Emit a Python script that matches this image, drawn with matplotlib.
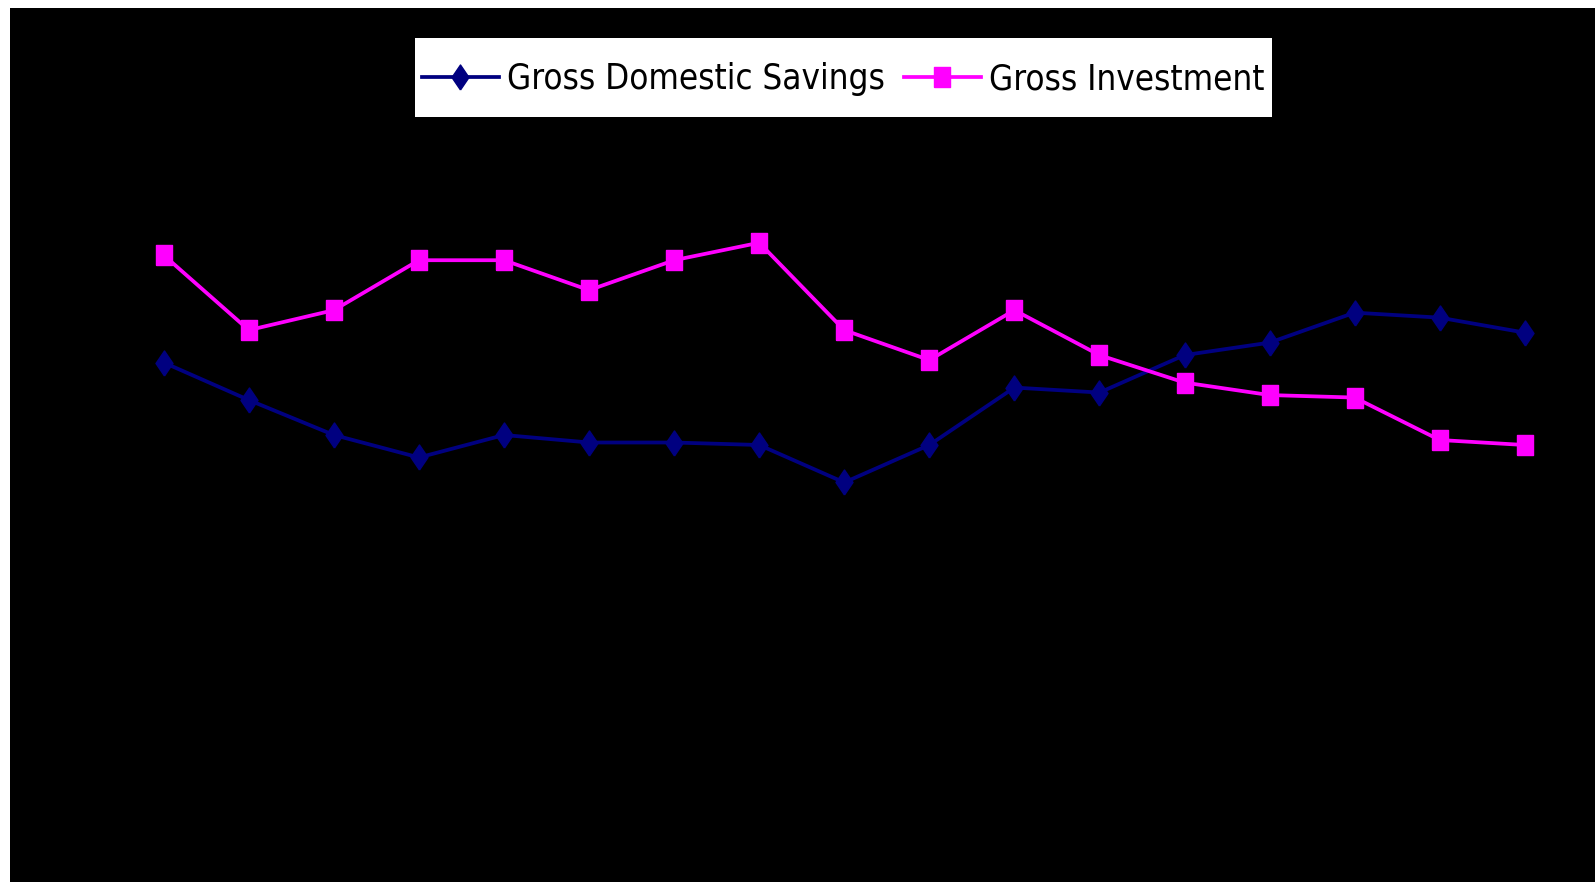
import matplotlib
matplotlib.use("Agg")
from matplotlib import pyplot as plt
from matplotlib.patches import Rectangle
import numpy as np

# years (axis text is black on black in the original, so not visible)
years = [str(y) for y in range(1990, 2007)]

# values (% of GDP, estimated)
savings = [20.8, 19.3, 17.9, 17.0, 17.9, 17.6, 17.6, 17.5, 16.0, 17.5,
           19.8, 19.6, 21.1, 21.6, 22.8, 22.6, 22.0]
investment = [25.1, 22.1, 22.9, 24.9, 24.9, 23.7, 24.9, 25.6, 22.1, 20.9,
              22.9, 21.1, 20.0, 19.5, 19.4, 17.7, 17.5]

W, H = 1595, 882
fig = plt.figure(figsize=(W / 100, H / 100), dpi=100, facecolor="white")
ax = fig.add_axes([10 / W, 0, (W - 10) / W, (H - 8) / H])
ax.set_facecolor("black")

x = np.arange(len(years))

# markers are a bit stretched vertically in the original
diamond = [(0, -0.5), (0.34, 0), (0, 0.5), (-0.34, 0), (0, -0.5)]
rect = [(-0.37, -0.5), (0.37, -0.5), (0.37, 0.5), (-0.37, 0.5), (-0.37, -0.5)]

ax.plot(x, savings, color="#000080", lw=2.7, marker=diamond, ms=18,
        mec="#000080", mfc="#000080", label="Gross Domestic Savings")
ax.plot(x, investment, color="#FF00FF", lw=2.7, marker=rect, ms=15,
        mec="#FF00FF", mfc="#FF00FF", label="Gross Investment")

ax.set_xlim(-1.808, 16.826)
ax.set_ylim(0, 35)
# year labels were black on black in the original -> not shown
ax.set_xticks([])
ax.set_yticks([])
for s in ax.spines.values():
    s.set_visible(False)

# white legend box (taller than matplotlib's own frame would be)
bx0, bx1, by0, by1 = 415, 1272, 37.6, 117
fig.patches.append(Rectangle((bx0 / W, 1 - by1 / H), (bx1 - bx0) / W, (by1 - by0) / H,
                             transform=fig.transFigure, facecolor="white",
                             edgecolor="none", zorder=5))

leg = fig.legend(loc="center", bbox_to_anchor=((bx0 + bx1) / 2 / W, 1 - (by0 + by1 + 4) / 2 / H),
                 ncol=2, frameon=False, borderaxespad=0,
                 prop={"family": "DejaVu Sans", "stretch": "condensed", "size": 25},
                 handlelength=2.2, handletextpad=0.25, columnspacing=0.55,
                 borderpad=0.3)
leg.set_zorder(6)

fig.savefig("out.png", dpi=100, facecolor="white")
